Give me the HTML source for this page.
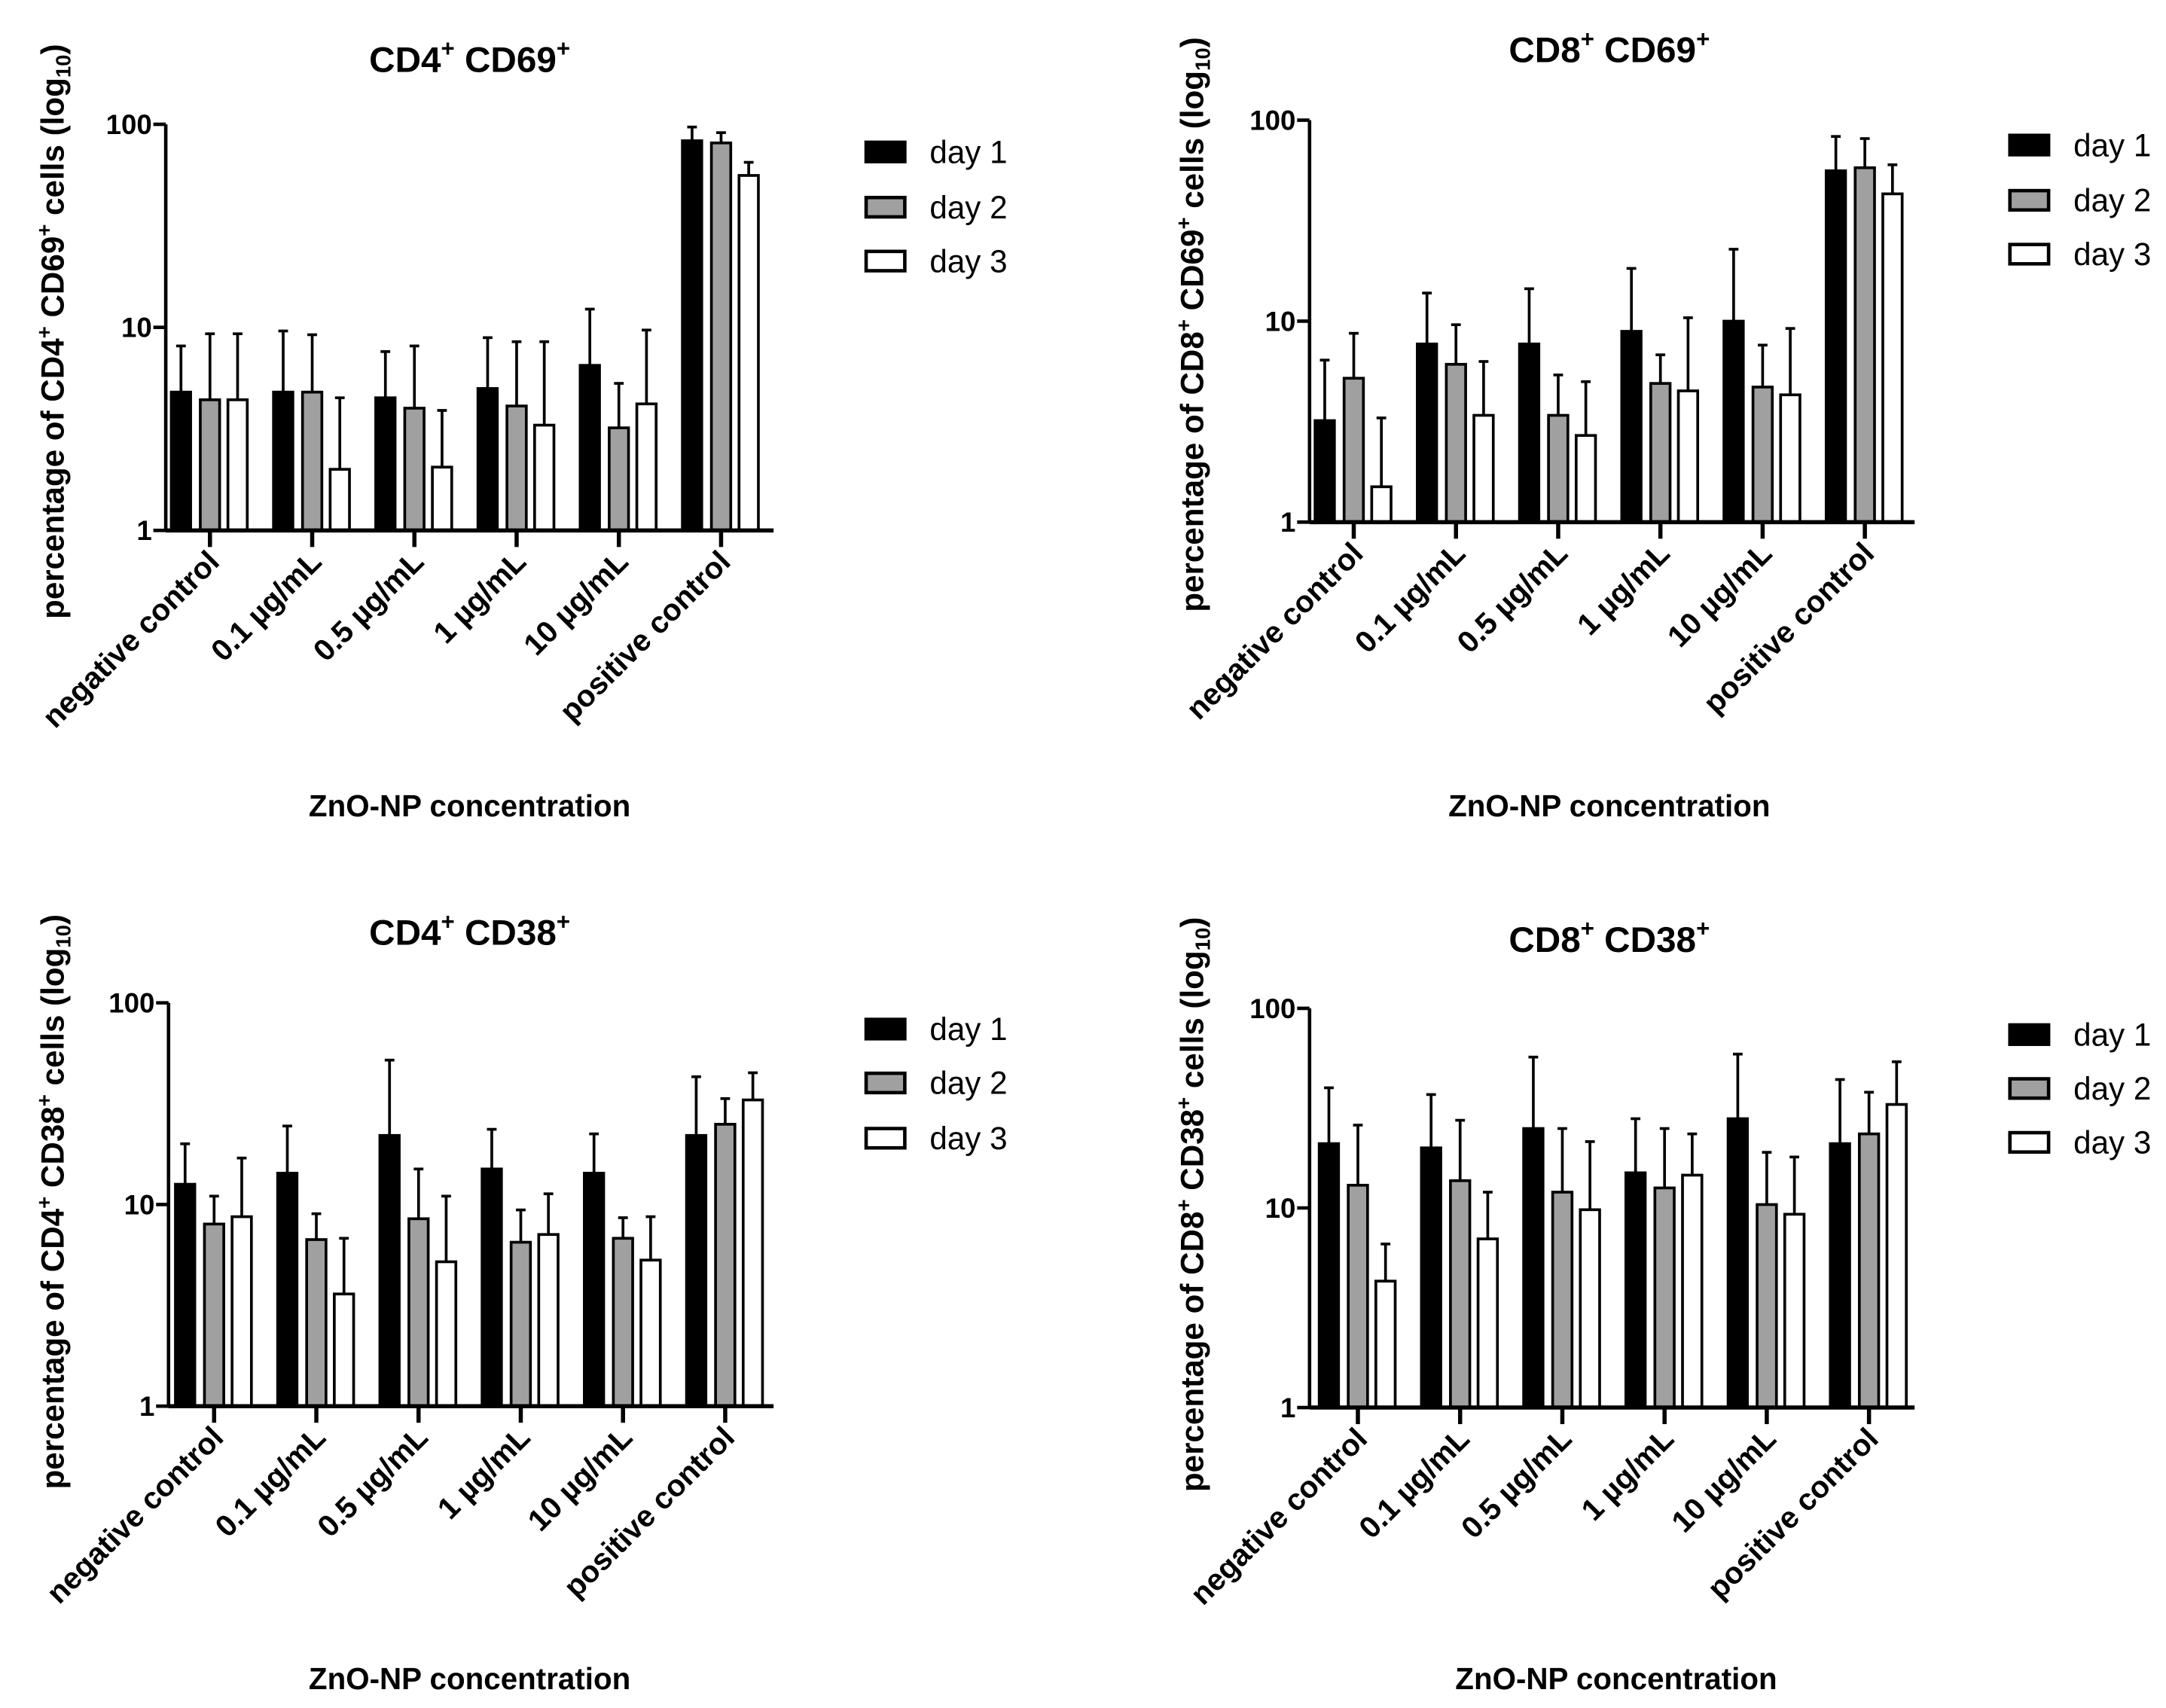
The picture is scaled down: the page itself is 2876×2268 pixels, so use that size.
<!DOCTYPE html>
<html><head><meta charset="utf-8"><style>
html,body{margin:0;padding:0;background:#fff;}
svg{display:block;font-family:"Liberation Sans",Arial,sans-serif;}
</style></head><body>
<svg id="fig" width="2876" height="2268" viewBox="0 0 1568 1236.5" xmlns="http://www.w3.org/2000/svg"></svg>
<script>
const categories = ["negative control","0.1 µg/mL","0.5 µg/mL","1 µg/mL","10 µg/mL","positive control"];
const seriesNames = ["day 1","day 2","day 3"];
const yTickValues = [1,10,100];
const yTickLabels = ["1","10","100"];
// Panel CD4+ CD69+
const cd4cd69Day1 = [4.8,4.8,4.5,5.0,6.5,83];
const cd4cd69Day2 = [4.4,4.8,4.0,4.1,3.2,81];
const cd4cd69Day3 = [4.4,2.0,2.05,3.3,4.2,56];
const cd4cd69Err1 = [8.1,9.6,7.6,8.9,12.3,97];
const cd4cd69Err2 = [9.3,9.2,8.1,8.5,5.3,91];
const cd4cd69Err3 = [9.3,4.5,3.9,8.5,9.7,65];
// Panel CD8+ CD69+
const cd8cd69Day1 = [3.2,7.7,7.7,8.9,10,56];
const cd8cd69Day2 = [5.2,6.1,3.4,4.9,4.7,58];
const cd8cd69Day3 = [1.5,3.4,2.7,4.5,4.3,43];
const cd8cd69Err1 = [6.4,13.8,14.5,18.3,22.8,83];
const cd8cd69Err2 = [8.7,9.6,5.4,6.8,7.6,81];
const cd8cd69Err3 = [3.3,6.3,5.0,10.4,9.2,60];
// Panel CD4+ CD38+
const cd4cd38Day1 = [12.6,14.3,22,15,14.3,22];
const cd4cd38Day2 = [8,6.7,8.5,6.5,6.8,25];
const cd4cd38Day3 = [8.7,3.6,5.2,7.1,5.3,33];
const cd4cd38Err1 = [20,24.5,52,23.6,22.4,43];
const cd4cd38Err2 = [11,9,15,9.4,8.6,33.5];
const cd4cd38Err3 = [17,6.8,11,11.3,8.7,45];
// Panel CD8+ CD38+
const cd8cd38Day1 = [21,20,25,15,28,21];
const cd8cd38Day2 = [13,13.7,12,12.6,10.4,23.5];
const cd8cd38Day3 = [4.3,7,9.8,14.6,9.3,33];
const cd8cd38Err1 = [40,37,57,28,59,44];
const cd8cd38Err2 = [26,27.5,25,25,19,38];
const cd8cd38Err3 = [6.6,12,21.5,23.5,18,54];

const NS="http://www.w3.org/2000/svg";
const svg=document.getElementById('fig');
function mk(tag,attrs,parent,text){const e=document.createElementNS(NS,tag);for(const k in attrs)e.setAttribute(k,attrs[k]);if(text!==undefined)e.textContent=text;parent.appendChild(e);return e;}

const panels=[
 {key:"cd4-cd69",cell:"CD4",mk2:"CD69",x0:120,xEnd:560,y1:384,y100:90,c0:152,legY:[110,150,189],legX:627,title:[340,52],xt:[340,583],yt:[38,240],vals:[cd4cd69Day1,cd4cd69Day2,cd4cd69Day3],errs:[cd4cd69Err1,cd4cd69Err2,cd4cd69Err3]},
 {key:"cd8-cd69",cell:"CD8",mk2:"CD69",x0:948,xEnd:1386,y1:378,y100:87,c0:980,legY:[105,145,184],legX:1455,title:[1165,45],xt:[1165,583],yt:[863,235],vals:[cd8cd69Day1,cd8cd69Day2,cd8cd69Day3],errs:[cd8cd69Err1,cd8cd69Err2,cd8cd69Err3]},
 {key:"cd4-cd38",cell:"CD4",mk2:"CD38",x0:122,xEnd:560,y1:1018,y100:726,c0:155,legY:[745,784,824],legX:627,title:[340,684],xt:[340,1215],yt:[38,870],vals:[cd4cd38Day1,cd4cd38Day2,cd4cd38Day3],errs:[cd4cd38Err1,cd4cd38Err2,cd4cd38Err3]},
 {key:"cd8-cd38",cell:"CD8",mk2:"CD38",x0:948,xEnd:1386,y1:1019,y100:730,c0:983,legY:[749,788,827],legX:1455,title:[1165,689],xt:[1170,1215],yt:[863,872],vals:[cd8cd38Day1,cd8cd38Day2,cd8cd38Day3],errs:[cd8cd38Err1,cd8cd38Err2,cd8cd38Err3]}
];
const fills=["#000","#a0a0a0","#fff"];
const offs=[-21,0,20];
const step=74;
const bw=14;

panels.forEach(p=>{
 const g=mk('g',{},svg);
 
 
 const y=v=>p.y1-(Math.log10(v))*(p.y1-p.y100)/2;
 const xc=i=>p.c0+i*step;
 const t=mk('text',{x:p.title[0],y:p.title[1],'text-anchor':'middle','font-size':26,'font-weight':'bold'},g);
 
 
 t.innerHTML=p.cell+'<tspan dy="-11" font-size="17">+</tspan><tspan dy="11"> '+p.mk2+'</tspan><tspan dy="-11" font-size="17">+</tspan>';
 const yt=mk('text',{x:0,y:0,transform:`translate(${p.yt[0]+8},${p.yt[1]}) rotate(-90)`,'text-anchor':'middle','font-size':23,'font-weight':'bold'},g);
 
 
 yt.innerHTML='percentage of '+p.cell+'<tspan dy="-9" font-size="15">+</tspan><tspan dy="9"> '+p.mk2+'</tspan><tspan dy="-9" font-size="15">+</tspan><tspan dy="9"> cells (log</tspan><tspan dy="5" font-size="15">10</tspan><tspan dy="-5">)</tspan>';
 p.vals.forEach((arr,s)=>{
  arr.forEach((v,i)=>{
   const cx=xc(i)+offs[s];
   const top=p.errs[s][i];
   const e=mk('line',{x1:cx,x2:cx,y1:y(v),y2:y(top),stroke:'#000','stroke-width':2},g);
   
   
   const c=mk('line',{x1:cx-3.5,x2:cx+3.5,y1:y(top),y2:y(top),stroke:'#000','stroke-width':2},g);
   
   
   const r=mk('rect',{x:cx-bw/2,y:y(v),width:bw,height:p.y1-y(v),fill:fills[s],stroke:'#000','stroke-width':2},g);
   
   
  });
 });
 const ya=mk('line',{x1:p.x0,x2:p.x0,y1:p.y100,y2:p.y1+1,stroke:'#000','stroke-width':2.5},g);
 
 
 const xa=mk('line',{x1:p.x0,x2:p.xEnd,y1:p.y1,y2:p.y1,stroke:'#000','stroke-width':3},g);
 
 
 yTickValues.forEach((v,k)=>{
  const tk=mk('line',{x1:p.x0-9,x2:p.x0,y1:y(v),y2:y(v),stroke:'#000','stroke-width':2.5},g);
  
  
  const tl=mk('text',{x:p.x0-10,y:y(v)+7,'text-anchor':'end','font-size':20,'font-weight':'bold'},g,yTickLabels[k]);
  
  
 });
 categories.forEach((c,i)=>{
  const tk=mk('line',{x1:xc(i),x2:xc(i),y1:p.y1,y2:p.y1+12,stroke:'#000','stroke-width':3},g);
  
  
  const tl=mk('text',{x:0,y:0,transform:`translate(${xc(i)+8},${p.y1+24}) rotate(-45)`,'text-anchor':'end','font-size':22,'font-weight':'bold'},g,c);
  
  
 });
 const xt=mk('text',{x:p.xt[0],y:p.xt[1]+8,'text-anchor':'middle','font-size':22,'font-weight':'bold'},g,'ZnO-NP concentration');
 
 
 seriesNames.forEach((n,s)=>{
  const lr=mk('rect',{x:p.legX,y:p.legY[s]-7,width:28,height:14,fill:fills[s],stroke:'#000','stroke-width':2.5},g);
  
  
  const lt=mk('text',{x:p.legX+46,y:p.legY[s]+8,'font-size':23},g,n);
  
  
 });
});
</script>
</body></html>
